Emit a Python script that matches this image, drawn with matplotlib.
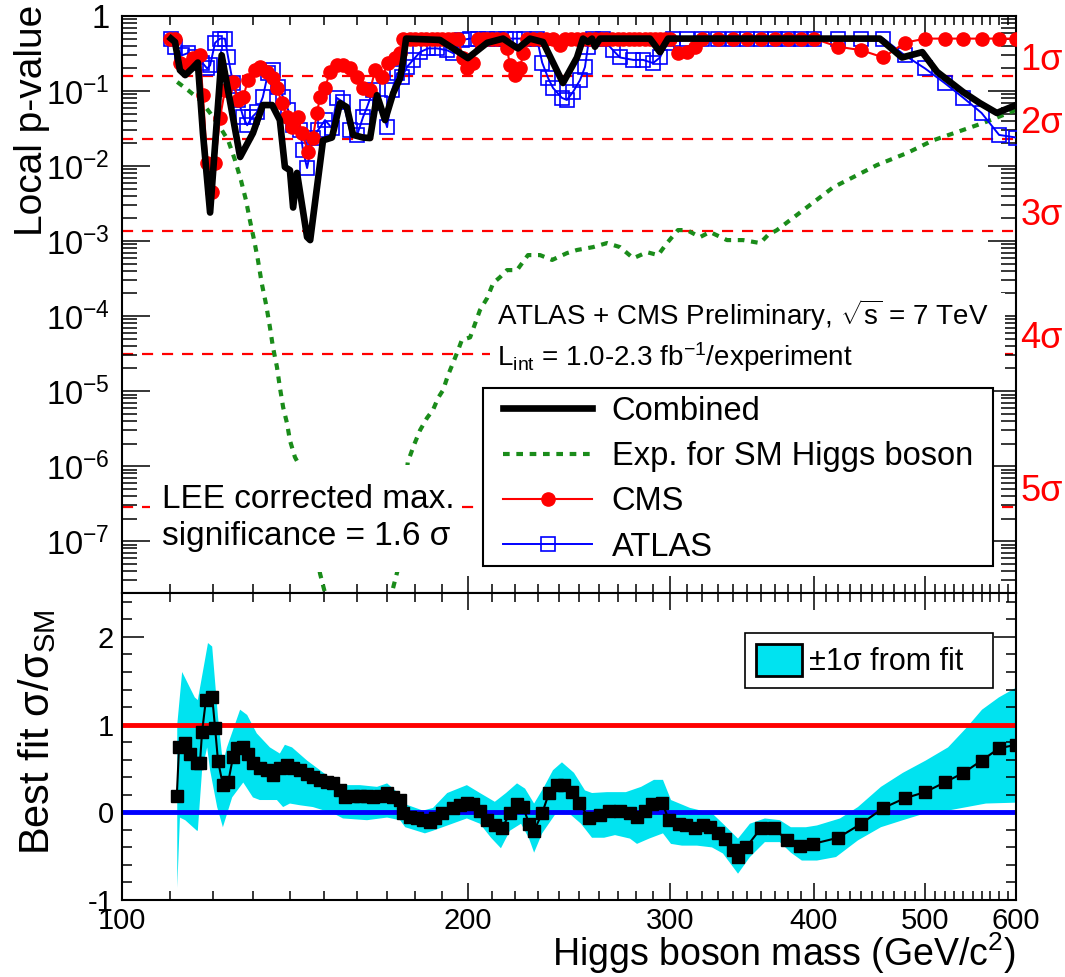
import numpy as np
import matplotlib
matplotlib.use('Agg')
import matplotlib.pyplot as plt
from matplotlib.patches import Patch, Rectangle
from matplotlib.ticker import FixedLocator, NullFormatter, FuncFormatter, LogLocator, MultipleLocator

plt.rcParams['font.family'] = ['Liberation Sans', 'DejaVu Sans']
plt.rcParams['mathtext.fontset'] = 'custom'
plt.rcParams['mathtext.rm'] = 'Liberation Sans'
plt.rcParams['mathtext.it'] = 'Liberation Sans:italic'
plt.rcParams['mathtext.bf'] = 'Liberation Sans:bold'
plt.rcParams['axes.unicode_minus'] = False

# ---- top panel: local p-values ----
comb_mass = [110.3, 111.2, 112.3, 113.5, 115.1, 116.4, 117.6, 119.3, 122.1, 126.7,
             130.0, 132.6, 135.1, 137.2, 138.6, 140.0, 140.9, 142.0, 144.9, 145.8,
             147.8, 149.6, 152.3, 154.8, 156.9, 158.9, 162.1, 164.4, 166.7, 169.4,
             172.2, 174.6, 175.7, 176.7, 189.1, 200.0, 207.9, 214.6, 221.1, 226.5,
             232.5, 242.0, 248.9, 251.9, 254.4, 256.5, 258.0, 260.6, 288.1, 293.9,
             298.7, 456.7, 477.4, 497.2, 512.2, 539.6, 558.1, 577.4, 600.0]
comb_p = [0.5, 0.45, 0.19, 0.163, 0.20, 0.24, 0.0275, 0.0024, 0.30, 0.0132,
          0.0275, 0.065, 0.065, 0.041, 0.0097, 0.0088, 0.0028, 0.0081, 0.00113, 0.00103,
          0.0052, 0.022, 0.024, 0.069, 0.061, 0.026, 0.024, 0.0236, 0.088, 0.041,
          0.094, 0.149, 0.26, 0.5, 0.48, 0.275, 0.44, 0.5, 0.37, 0.5,
          0.45, 0.128, 0.28, 0.5, 0.45, 0.5, 0.39, 0.5, 0.5, 0.33,
          0.5, 0.5, 0.28, 0.33, 0.18, 0.097, 0.069, 0.051, 0.065]

cms_mass = [110.1, 111.2, 112.3, 113.9, 115.3, 116.9, 117.6, 118.6, 119.8, 120.5,
            121.7, 122.9, 124.9, 126.2, 127.5, 128.7, 130.6, 131.8, 133.7, 135.3,
            136.4, 137.8, 139.2, 140.6, 142.3, 143.4, 145.2, 146.6, 147.8, 148.7,
            150.2, 151.7, 153.8, 155.8, 157.9, 160.2, 162.1, 164.4, 166.1, 168.4,
            170.4, 172.8, 174.6, 175.7, 178, 180, 182, 184, 186, 188,
            190, 192, 194, 196, 198.1, 199.6, 202.0, 204.1, 206, 208,
            210, 212, 214.6, 216.3, 217.6, 219.8, 222.0, 223.4, 225.2, 228,
            231, 234, 237, 240.5, 243, 246, 249, 252, 255, 258,
            261, 264, 267, 270, 273, 276, 279, 282, 285, 288,
            291, 294, 297, 300, 305, 310, 315, 320, 330, 340,
            350, 360, 370, 380, 390, 400, 420, 440, 460, 480,
            500, 520, 540, 560, 580, 600]
cms_p = [0.5, 0.5, 0.236, 0.222, 0.275, 0.30, 0.088, 0.011, 0.0045, 0.011,
         0.044, 0.103, 0.132, 0.076, 0.083, 0.14, 0.19, 0.21, 0.18, 0.149,
         0.11, 0.069, 0.045, 0.033, 0.045, 0.0275, 0.0154, 0.024, 0.051, 0.083,
         0.11, 0.18, 0.222, 0.222, 0.20, 0.154, 0.11, 0.103, 0.19, 0.154,
         0.236, 0.275, 0.32, 0.5, 0.5, 0.5, 0.5, 0.5, 0.5, 0.5,
         0.5, 0.5, 0.5, 0.5, 0.275, 0.2, 0.24, 0.5, 0.5, 0.5,
         0.5, 0.5, 0.5, 0.37, 0.222, 0.163, 0.2, 0.32, 0.5, 0.5,
         0.5, 0.5, 0.5, 0.41, 0.5, 0.5, 0.5, 0.5, 0.5, 0.5,
         0.5, 0.5, 0.5, 0.5, 0.5, 0.5, 0.5, 0.5, 0.5, 0.5,
         0.5, 0.5, 0.5, 0.5, 0.32, 0.33, 0.39, 0.5, 0.5, 0.5,
         0.5, 0.5, 0.5, 0.5, 0.5, 0.5, 0.39, 0.35, 0.28, 0.44,
         0.5, 0.5, 0.5, 0.5, 0.5, 0.5]

atlas_mass = [110.3, 111.2, 112.8, 114.1, 115.7, 117.4, 118.6, 119.3, 120.5, 121.7,
              122.9, 123.7, 124.9, 126.2, 127.5, 128.5, 129.8, 131.0, 132.6, 134.0,
              135.3, 136.7, 138.1, 139.5, 140.9, 142.9, 143.7, 144.9, 146.6, 148.1,
              150.2, 152.3, 153.8, 155.8, 157.9, 160.2, 162.1, 163.4, 165.4, 167.7,
              170.1, 171.8, 173.6, 175.3, 177.0, 179.2, 181.7, 184.7, 188.0, 191.8,
              194.2, 197.6, 200.9, 204, 208, 212, 216, 220, 224, 229.7,
              232.1, 234.9, 237.2, 241.5, 243.9, 246.9, 250.4, 252.9, 254.4, 257.0,
              262, 267.5, 271.3, 278.6, 284.2, 289.9, 293.9, 298.1, 301.7, 310,
              320, 330, 340, 350, 360, 370, 380, 390, 400, 420,
              440, 460, 480, 500, 520, 540, 560, 580, 600]
atlas_p = [0.5, 0.39, 0.30, 0.32, 0.28, 0.24, 0.20, 0.22, 0.44, 0.5,
           0.5, 0.28, 0.128, 0.076, 0.045, 0.035, 0.045, 0.052, 0.083, 0.174,
           0.19, 0.113, 0.083, 0.056, 0.035, 0.030, 0.0163, 0.0094, 0.024, 0.030,
           0.041, 0.032, 0.081, 0.071, 0.030, 0.026, 0.045, 0.061, 0.103, 0.069,
           0.033, 0.103, 0.174, 0.154, 0.209, 0.26, 0.33, 0.37, 0.37, 0.35,
           0.32, 0.48, 0.5, 0.5, 0.5, 0.5, 0.5, 0.5, 0.5, 0.5,
           0.24, 0.149, 0.11, 0.081, 0.076, 0.097, 0.14, 0.209, 0.39, 0.5,
           0.5, 0.35, 0.28, 0.26, 0.26, 0.236, 0.28, 0.44, 0.5, 0.5,
           0.5, 0.5, 0.5, 0.5, 0.5, 0.5, 0.5, 0.5, 0.5, 0.5,
           0.5, 0.5, 0.30, 0.2, 0.128, 0.081, 0.051, 0.026, 0.024]

exp_mass = [111.7, 114.1, 116.9, 119.3, 121.7, 123.7, 125.4, 126.9, 128.2, 129.2,
            130.3, 131.3, 132.3, 133.5, 134.5, 135.3, 136.4, 137.2, 138.1, 139.2,
            140.0, 141.4, 142.3, 144.9, 146.6, 148.7, 150.8, 161.1, 171.8, 173.6,
            177.3, 179.5, 181.7, 184.3, 186.5, 188.4, 190.3, 192.2, 194.2, 196.1,
            197.6, 200.9, 204.9, 207.9, 210.4, 213.3, 216.3, 220.7, 225.6, 231.1,
            236.8, 243.9, 248.9, 257.0, 264.3, 271.3, 278.6, 286.4, 292.8, 298.1,
            304.7, 310.2, 318.5, 324.9, 336.2, 347.2, 359.3, 364.9, 371.6, 389.2,
            415.9, 454.0, 482.2, 508.1, 533.2, 561.5, 592.9, 600]
exp_p = [0.132, 0.103, 0.076, 0.051, 0.033, 0.022, 0.012, 0.0065, 0.0035, 0.0019,
         1.03e-3, 5.6e-4, 2.75e-4, 1.4e-4, 7.1e-5, 3.9e-5, 2.1e-5, 1.13e-5, 6.1e-6, 3.7e-6,
         2.2e-6, 1.32e-6, 1.1e-6, 3.0e-7, 1.2e-7, 3.7e-8, 1.6e-8, 3.5e-9, 2.1e-8, 3.9e-8,
         1.13e-6, 1.9e-6, 3.0e-6, 4.4e-6, 5.6e-6, 8.1e-6, 1.03e-5, 1.63e-5, 2.4e-5, 3.5e-5,
         4.8e-5, 5.2e-5, 1.2e-4, 1.74e-4, 2.75e-4, 3.3e-4, 4.1e-4, 4.1e-4, 6.5e-4, 6.5e-4,
         5.6e-4, 6.9e-4, 7.6e-4, 8.3e-4, 9.4e-4, 8.3e-4, 5.9e-4, 7.1e-4, 6.5e-4, 9.4e-4,
         1.4e-3, 1.4e-3, 1.13e-3, 1.32e-3, 1.03e-3, 1.03e-3, 9.4e-4, 1.2e-3, 1.4e-3, 2.4e-3,
         5.2e-3, 0.0103, 0.0149, 0.022, 0.0284, 0.0374, 0.052, 0.056]

sigma_p = [0.1587, 0.02275, 0.00135, 3.167e-5, 2.867e-7]
sigma_labels = ['1σ', '2σ', '3σ', '4σ', '5σ']

# ---- bottom panel: best fit signal strength ----
mu_mass = [111.6, 112.1, 113.5, 114.6, 116.2, 116.9, 117.4, 118.3, 119.8, 120.5,
           121.2, 122.4, 123.7, 124.9, 125.9, 127.5, 128.7, 130.0, 131.8, 133.7,
           135.3, 137.2, 139.2, 140.9, 142.9, 144.9, 146.6, 148.7, 150.8, 152.6,
           154.8, 156.3, 158.9, 161.1, 163.4, 165.4, 167.7, 170.1, 172.2, 174.6,
           175.7, 178.1, 180.6, 182.8, 185.4, 187.3, 189.9, 194.2, 196.9, 199.6,
           202.0, 204.9, 208.0, 211.2, 214.2, 217.6, 220.7, 223.4, 226.1, 228.4,
           232.1, 235.3, 239.1, 242.5, 246.4, 249.9, 255.0, 260.6, 265.4, 271.3,
           276.8, 280.7, 285.2, 289.3, 295.1, 299.3, 305.3, 309.6, 315.2, 320.4,
           324.9, 330.2, 334.9, 340.3, 343.7, 349.3, 359.9, 369.4, 379.2, 389.2,
           399.5, 420, 440, 460, 480, 500, 520, 540, 560, 580, 600]
mu_val = [0.19, 0.74, 0.79, 0.67, 0.56, 0.56, 0.92, 1.28, 1.32, 0.96,
          0.59, 0.31, 0.34, 0.63, 0.73, 0.74, 0.67, 0.56, 0.51, 0.48,
          0.42, 0.51, 0.54, 0.50, 0.48, 0.44, 0.40, 0.37, 0.34, 0.33,
          0.25, 0.17, 0.19, 0.19, 0.19, 0.17, 0.19, 0.22, 0.17, 0.14,
          -0.01, -0.05, -0.07, -0.09, -0.11, -0.07, -0.01, 0.05, 0.08, 0.11,
          0.10, 0.02, -0.09, -0.15, -0.18, -0.01, 0.10, 0.06, -0.13, -0.21,
          -0.01, 0.22, 0.31, 0.31, 0.23, 0.11, -0.07, -0.03, 0.02, 0.02,
          -0.01, -0.05, 0.02, 0.10, 0.11, -0.09, -0.13, -0.15, -0.18, -0.15,
          -0.17, -0.24, -0.30, -0.43, -0.51, -0.40, -0.18, -0.18, -0.32, -0.38,
          -0.36, -0.29, -0.13, 0.05, 0.16, 0.23, 0.34, 0.45, 0.59, 0.73, 0.77]

band_hi_mass = [111.7, 112.8, 115.7, 116.4, 118.8, 119.8, 121.2, 122.4, 123.4, 126.7,
                128.5, 131.0, 134.5, 137.2, 138.6, 140.6, 144.9, 148.7, 152.6, 154.8,
                161.1, 166.7, 170.1, 173.6, 175.7, 182.8, 186.5, 191.9, 199.6, 204.9,
                211.1, 215.9, 220.7, 224.3, 228.4, 233.0, 237.2, 241.5, 247.4, 252.9,
                256.5, 264.3, 274.5, 283.0, 290.4, 295.7, 300.5, 312.2, 326.2, 333.5,
                343.7, 352.0, 362.7, 373.8, 382.1, 393.8, 402.6, 421.7, 437.1, 457.7,
                478.3, 500.7, 523.6, 543.9, 560.5, 579.8, 600]
band_hi = [1.0, 1.60, 1.31, 1.28, 1.93, 1.89, 1.09, 0.56, 0.74, 1.17,
           1.11, 0.90, 0.74, 0.67, 0.77, 0.74, 0.59, 0.48, 0.37, 0.31,
           0.31, 0.29, 0.33, 0.23, 0.10, 0.02, 0.05, 0.22, 0.31, 0.22,
           0.12, 0.22, 0.33, 0.27, 0.10, 0.29, 0.48, 0.57, 0.45, 0.25,
           0.22, 0.23, 0.23, 0.29, 0.37, 0.37, 0.14, 0.05, -0.01, -0.13,
           -0.30, -0.13, -0.07, -0.09, -0.17, -0.17, -0.15, -0.07, 0.06, 0.29,
           0.45, 0.59, 0.74, 0.97, 1.17, 1.31, 1.42]

band_lo_mass = [111.7, 112.3, 113.5, 116.2, 116.4, 117.4, 118.6, 119.3, 121.0, 122.4,
                124.7, 127.5, 130.0, 131.8, 136.4, 138.1, 140.0, 142.9, 146.6, 152.6,
                155.7, 163.4, 170.1, 174.6, 176.4, 183.5, 186.5, 199.6, 204.9, 209.5,
                213.7, 217.6, 222.5, 226.1, 228.4, 232.1, 238.1, 243.4, 250.9, 256.5,
                262.8, 268.6, 276.8, 280.7, 287.6, 295.7, 300.5, 307.2, 316.6, 326.2,
                333.5, 343.7, 352.0, 362.7, 373.8, 382.1, 390.6, 402.6, 418.3, 437.1,
                457.7, 478.3, 500.7, 523.6, 543.9, 564.9, 600]
band_lo = [-0.86, -0.06, -0.09, -0.21, -0.21, 0.48, 0.74, 0.48, 0.06, -0.17,
           0.17, 0.34, 0.17, 0.14, 0.14, 0.06, 0.10, 0.08, 0.06, -0.01,
           -0.07, -0.09, -0.06, -0.09, -0.17, -0.24, -0.21, -0.07, -0.13, -0.29,
           -0.41, -0.21, -0.13, -0.30, -0.46, -0.24, -0.03, 0.02, -0.13, -0.29,
           -0.29, -0.26, -0.30, -0.36, -0.30, -0.24, -0.36, -0.38, -0.38, -0.40,
           -0.47, -0.70, -0.51, -0.34, -0.34, -0.46, -0.55, -0.55, -0.51, -0.32,
           -0.17, -0.09, -0.01, 0.02, 0.06, 0.10, 0.11]

cyan = '#00e3f0'
green = '#1a8c1a'

fig = plt.figure(figsize=(10.65, 9.77), dpi=100)
ax1 = fig.add_axes([0.1146, 0.3930, 0.8394, 0.5906])
ax2 = fig.add_axes([0.1146, 0.0788, 0.8394, 0.3142])

# sigma reference lines
for k in range(len(sigma_p)):
    ax1.axhline(sigma_p[k], color='red', lw=1.6, ls=(0, (5, 4)), zorder=1)
    ax1.annotate(sigma_labels[k], xy=(1, sigma_p[k]), xycoords=('axes fraction', 'data'),
                 xytext=(3, 11), textcoords='offset points', color='red', fontsize=26,
                 va='center', ha='left', annotation_clip=False)

l_exp, = ax1.plot(exp_mass, exp_p, color=green, lw=3, ls=(0, (1.6, 1.6)), zorder=2)
l_atl, = ax1.plot(atlas_mass, atlas_p, color='blue', lw=1.4, marker='s', ms=9.5,
                  mfc='none', mec='blue', mew=1.2, zorder=3)
l_cms, = ax1.plot(cms_mass, cms_p, color='red', lw=1.5, marker='o', ms=9.5, zorder=4)
l_comb, = ax1.plot(comb_mass, comb_p, color='black', lw=4.8, zorder=5)

ax1.set_xscale('log')
ax1.set_yscale('log')
ax1.set_xlim(100, 600)
ax1.set_ylim(2.03e-8, 1)

# white text boxes
ax1.add_patch(Rectangle((0.4116, 0.3726), 0.576, 0.148, transform=ax1.transAxes,
                        facecolor='white', edgecolor='none', zorder=6))
ax1.add_patch(Rectangle((0.0313, 0.0364), 0.349, 0.1854, transform=ax1.transAxes,
                        facecolor='white', edgecolor='none', zorder=6))
ax1.text(0.4195, 0.4645, r'ATLAS + CMS Preliminary, $\sqrt{\mathregular{s}}$ = 7 TeV',
         transform=ax1.transAxes, fontsize=20, zorder=7)
ax1.text(0.4195, 0.3934, r'L$_{\mathregular{int}}$ = 1.0-2.3 fb$^{\mathregular{-1}}$/experiment',
         transform=ax1.transAxes, fontsize=20, zorder=7)
ax1.text(0.0447, 0.1473, 'LEE corrected max.', transform=ax1.transAxes, fontsize=24, zorder=7)
ax1.text(0.0447, 0.0832, 'significance = 1.6 σ', transform=ax1.transAxes, fontsize=24, zorder=7)

# legend frame drawn as a box, entries placed inside it
ax1.add_patch(Rectangle((0.4038, 0.0468), 0.5705, 0.3085, transform=ax1.transAxes,
                        facecolor='white', edgecolor='black', lw=1.5, zorder=9))
leg = ax1.legend([l_comb, l_exp, l_cms, l_atl],
                 ['Combined', 'Exp. for SM Higgs boson', 'CMS', 'ATLAS'],
                 loc='upper left', bbox_to_anchor=(0.4262, 0.342), frameon=False,
                 fontsize=23.5, borderpad=0, labelspacing=0.44, handlelength=2.73,
                 handletextpad=0.6, borderaxespad=0)
leg.set_zorder(10)

# bottom panel
ax2.fill(np.concatenate([band_hi_mass, band_lo_mass[::-1]]),
         np.concatenate([band_hi, band_lo[::-1]]), color=cyan, lw=0, zorder=1)
ax2.axhline(1, color='red', lw=3.5, zorder=2)
ax2.axhline(0, color='blue', lw=3.5, zorder=2)
ax2.plot(mu_mass, mu_val, color='black', lw=1.5, marker='s', ms=8.5, zorder=3)
ax2.set_xscale('log')
ax2.set_xlim(100, 600)
ax2.set_ylim(-1, 2.5)

leg2 = ax2.legend([Patch(facecolor=cyan, edgecolor='black', linewidth=2)], ['±1σ from fit'],
                  loc='upper left', bbox_to_anchor=(0.697, 0.6906, 0.277, 0.179), mode='expand',
                  fontsize=22, fancybox=False, edgecolor='black', framealpha=1,
                  handlelength=1.5, handleheight=1.25, borderpad=0.35, handletextpad=0.25,
                  borderaxespad=0)
leg2.get_frame().set_linewidth(1.2)

# axes styling
minor_x = [m for m in range(110, 600, 10) if m % 100]
for ax in (ax1, ax2):
    ax.xaxis.set_major_locator(FixedLocator([100, 200, 300, 400, 500, 600]))
    ax.xaxis.set_minor_locator(FixedLocator(minor_x))
    ax.xaxis.set_minor_formatter(NullFormatter())
    ax.tick_params(which='both', direction='in', top=True, right=True, width=1.1)
    ax.tick_params(axis='x', which='major', length=12)
    ax.tick_params(axis='x', which='minor', length=6.5)
    for s in ax.spines.values():
        s.set_linewidth(1.5)

ax1.xaxis.set_major_formatter(NullFormatter())
ax1.yaxis.set_major_locator(LogLocator(base=10, numticks=20))
ax1.yaxis.set_minor_locator(LogLocator(base=10, subs=range(2, 10), numticks=100))
ax1.yaxis.set_minor_formatter(NullFormatter())
ax1.yaxis.set_major_formatter(FuncFormatter(
    lambda v, _: '1' if v >= 0.99 else r'$\mathregular{10^{%d}}$' % round(np.log10(v))))
ax1.tick_params(axis='y', which='major', length=20, labelsize=23.5, pad=9)
ax1.tick_params(axis='y', which='minor', length=11)

ax2.xaxis.set_major_formatter(FuncFormatter(lambda v, _: '%d' % v))
ax2.yaxis.set_major_locator(MultipleLocator(1))
ax2.yaxis.set_minor_locator(MultipleLocator(0.2))
ax2.tick_params(axis='y', which='major', length=16, labelsize=21, pad=6)
ax2.tick_params(axis='y', which='minor', length=7)
ax2.tick_params(axis='x', which='major', labelsize=21, pad=5)

ax1.set_ylabel('Local p-value', fontsize=28, loc='top')
ax1.yaxis.set_label_coords(-0.081, 1.02)
ax2.set_ylabel(r'Best fit $\mathregular{\sigma/\sigma_{SM}}$', fontsize=30, loc='top')
ax2.yaxis.set_label_coords(-0.072, 0.945)
ax2.set_xlabel(r'Higgs boson mass (GeV/c$^{\mathregular{2}}$)', fontsize=27, loc='right')
ax2.xaxis.set_label_coords(1.0, -0.1)

fig.savefig('out.png', dpi=100)
